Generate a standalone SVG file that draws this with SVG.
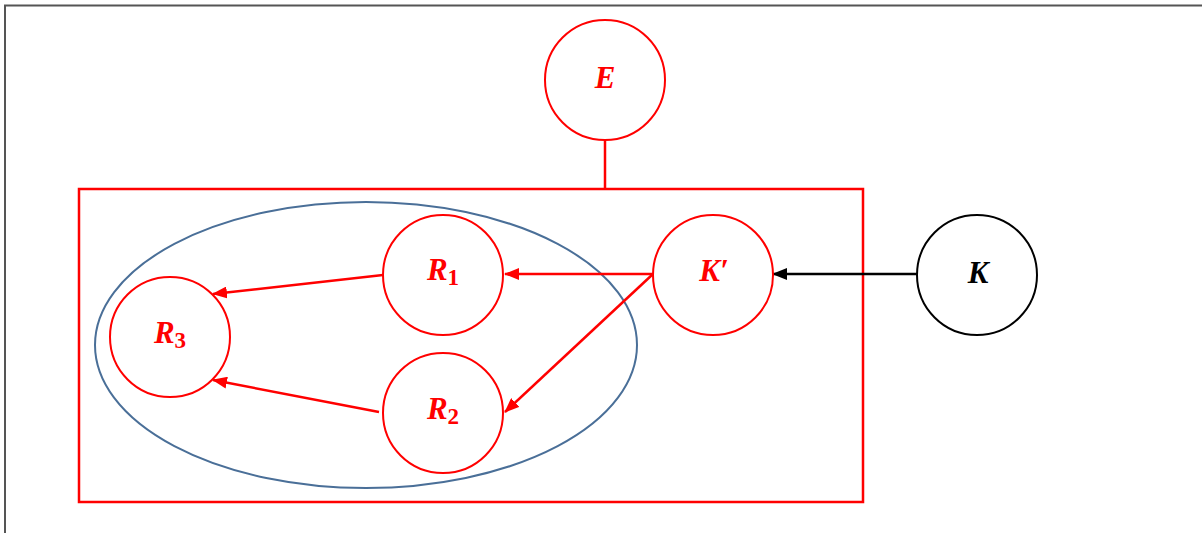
<svg xmlns="http://www.w3.org/2000/svg" width="1202" height="533" viewBox="0 0 1202 533">
<style>
.n{fill:#fff;stroke:#ff0000;stroke-width:2}
.k{fill:#fff;stroke:#000;stroke-width:2}
.lbl{font-family:"Liberation Serif","DejaVu Serif",serif;font-weight:bold;font-style:italic;font-size:31px;fill:#ff0000;text-anchor:middle}
.sub{font-size:23px;font-style:normal}
.c{stroke:#ff0000;stroke-width:2.5;fill:none}
</style>
<defs>
<marker id="ar" viewBox="0 0 15 12" refX="14" refY="6" markerWidth="15" markerHeight="12" markerUnits="userSpaceOnUse" orient="auto">
<path d="M0,0 L15,6 L0,12 Z" fill="#ff0000"/>
</marker>
<marker id="ab" viewBox="0 0 15 12" refX="14" refY="6" markerWidth="15" markerHeight="12" markerUnits="userSpaceOnUse" orient="auto">
<path d="M0,0 L15,6 L0,12 Z" fill="#000"/>
</marker>
</defs>
<rect width="1202" height="533" fill="#fff"/>
<path d="M5,533 V5.5 H1202" fill="none" stroke="#555" stroke-width="2"/>
<g id="plate">
<path d="M79,502 V189 H863 V502 Z" fill="none" stroke="#ff0000" stroke-width="2.5"/>
<line x1="605" y1="141" x2="605" y2="189" stroke="#ff0000" stroke-width="2.5"/>
</g>
<ellipse id="group" cx="366" cy="345" rx="271" ry="143" fill="none" stroke="#4a6f98" stroke-width="2"/>
<g id="connectors">
<line class="c" x1="653" y1="274" x2="505" y2="274" marker-end="url(#ar)"/>
<line class="c" x1="653" y1="274" x2="505" y2="412" marker-end="url(#ar)"/>
<line class="c" x1="383" y1="275" x2="213" y2="294" marker-end="url(#ar)"/>
<line class="c" x1="379" y1="412" x2="213" y2="380" marker-end="url(#ar)"/>
<line x1="917" y1="274" x2="773" y2="274" stroke="#000" stroke-width="2.5" marker-end="url(#ab)"/>
</g>
<g id="E"><circle class="n" cx="605" cy="80" r="60"/><text class="lbl" x="605" y="88">E</text></g>
<g id="R1"><circle class="n" cx="443" cy="275" r="60"/><text class="lbl" x="443" y="280">R<tspan class="sub" dy="5">1</tspan></text></g>
<g id="R2"><circle class="n" cx="443" cy="413" r="60"/><text class="lbl" x="443" y="419">R<tspan class="sub" dy="5">2</tspan></text></g>
<g id="R3"><circle class="n" cx="170" cy="337" r="60"/><text class="lbl" x="170" y="343">R<tspan class="sub" dy="5">3</tspan></text></g>
<g id="Kp"><circle class="n" cx="713" cy="275" r="60"/><text class="lbl" x="714" y="281">K′</text></g>
<g id="K"><circle class="k" cx="977" cy="275" r="60"/><text class="lbl" x="978" y="283" style="fill:#000">K</text></g>
</svg>
